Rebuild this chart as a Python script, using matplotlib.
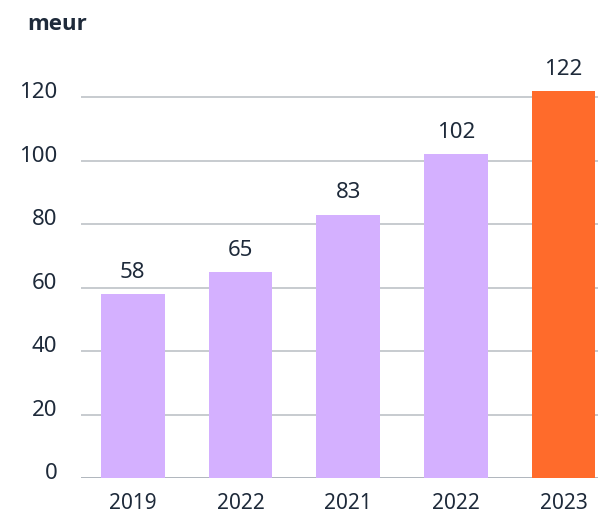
import matplotlib
matplotlib.use("Agg")
import matplotlib.pyplot as plt
import matplotlib.transforms as mtransforms

plt.rcParams['font.family'] = ['Noto Sans', 'DejaVu Sans']

categories = ["2019", "2022", "2021", "2022", "2023"]
values = [58, 65, 83, 102, 122]
bar_colors = ["#D4B0FF", "#D4B0FF", "#D4B0FF", "#D4B0FF", "#FF6B2B"]
yticks = [0, 20, 40, 60, 80, 100, 120]
unit_label = "meur"

text_color = "#1E2A3A"
grid_color = "#C3C7CC"

fig = plt.figure(figsize=(5.98, 5.14), dpi=100)
ax = fig.add_axes([81 / 598, 36 / 514, 517 / 598, 438 / 514])

x = list(range(len(values)))
bars = ax.bar(x, values, width=0.59, color=bar_colors, zorder=3)

ax.set_xlim(-0.481, 4.32)
ax.set_ylim(0, 138)

for yv in yticks:
    ax.axhline(yv, color=grid_color if yv else "#A9B0B7", linewidth=1.3, zorder=1)

ax.set_yticks(yticks)
ax.set_yticklabels([str(v) for v in yticks])
ax.tick_params(axis='y', length=0, pad=17, labelsize=16, labelcolor=text_color)
offset = mtransforms.ScaledTranslation(0, 7 / 100, fig.dpi_scale_trans)
for lbl in ax.get_yticklabels():
    lbl.set_transform(lbl.get_transform() + offset)

ax.set_xticks(x)
ax.set_xticklabels(categories)
ax.tick_params(axis='x', length=0, pad=11, labelsize=15, labelcolor=text_color)

for rect, v in zip(bars, values):
    ax.annotate(str(v), (rect.get_x() + rect.get_width() / 2, rect.get_height()),
                xytext=(0, 8), textcoords='offset points', ha='center', va='bottom',
                fontsize=16, color=text_color)

for s in ax.spines.values():
    s.set_visible(False)

fig.text(27 / 598, 1 - 24 / 514, unit_label, ha='left', va='center',
         fontsize=16, fontweight='bold', color=text_color,
         family=['Open Sans', 'DejaVu Sans'])

fig.savefig("out.png", dpi=100)
